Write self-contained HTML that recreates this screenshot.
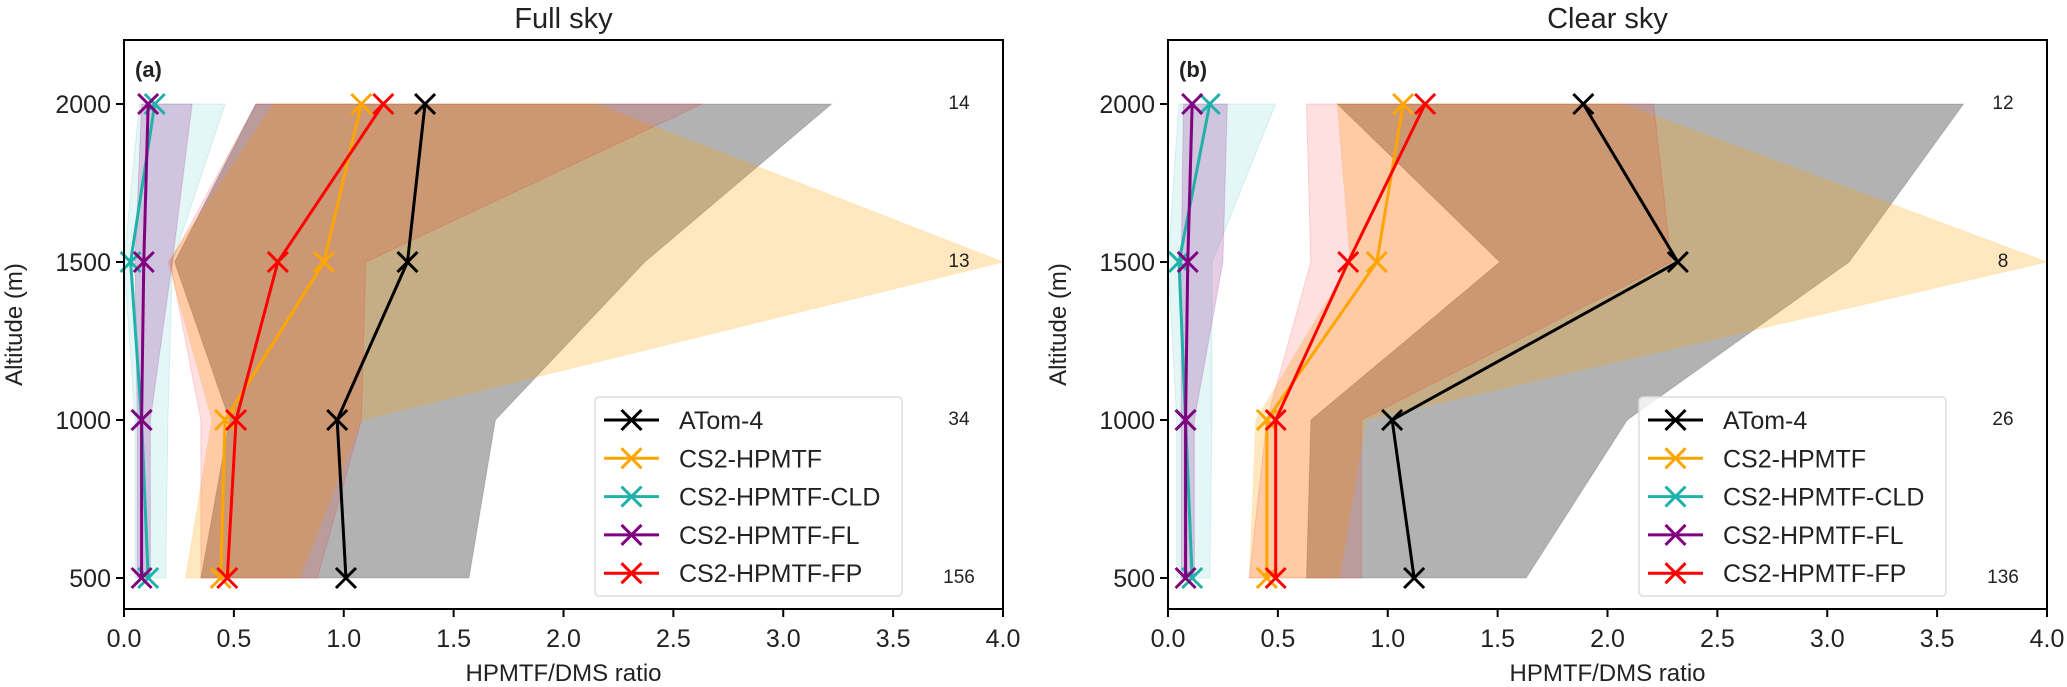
<!DOCTYPE html>
<html><head><meta charset="utf-8"><style>
body{margin:0;background:#fff;}
svg{display:block;font-family:"Liberation Sans","DejaVu Sans",sans-serif;}
</style></head><body>
<svg id="chart" width="2067" height="687" xmlns="http://www.w3.org/2000/svg"></svg>
<script>
const altitudes=[2000,1500,1000,500];
const xTicks=[0,0.5,1,1.5,2,2.5,3,3.5,4];
const yTicks=[500,1000,1500,2000];
const seriesNames=["ATom-4","CS2-HPMTF","CS2-HPMTF-CLD","CS2-HPMTF-FL","CS2-HPMTF-FP"];
const seriesColors=["#000000","#ffa500","#20b2aa","#800080","#ff0000"];
const fillOpacity=[0.3,0.25,0.12,0.2,0.12];
// Full sky
const fullAtom=[1.37,1.29,0.97,1.01];
const fullHpmtf=[1.08,0.91,0.46,0.44];
const fullCld=[0.14,0.03,0.08,0.11];
const fullFl=[0.11,0.09,0.08,0.08];
const fullFp=[1.18,0.70,0.51,0.47];
const fullAtomLo=[0.60,0.23,0.48,0.35];
const fullAtomHi=[3.22,2.37,1.69,1.57];
const fullHpmtfLo=[0.68,0.20,0.40,0.28];
const fullHpmtfHi=[2.15,4.0,1.08,0.80];
const fullCldLo=[0.07,0.0,0.05,0.05];
const fullCldHi=[0.46,0.22,0.20,0.19];
const fullFlLo=[0.08,0.05,0.06,0.06];
const fullFlHi=[0.31,0.22,0.12,0.12];
const fullFpLo=[0.60,0.21,0.35,0.35];
const fullFpHi=[2.63,1.10,1.08,0.88];
const fullCounts=["14","13","34","156"];
// Clear sky
const clearAtom=[1.89,2.32,1.02,1.12];
const clearHpmtf=[1.07,0.95,0.45,0.45];
const clearCld=[0.19,0.05,0.08,0.11];
const clearFl=[0.11,0.09,0.08,0.08];
const clearFp=[1.17,0.82,0.49,0.49];
const clearAtomLo=[0.77,1.51,0.65,0.63];
const clearAtomHi=[3.62,3.10,2.09,1.63];
const clearHpmtfLo=[0.77,0.83,0.40,0.37];
const clearHpmtfHi=[2.07,4.0,0.90,0.78];
const clearCldLo=[0.05,0.0,0.04,0.04];
const clearCldHi=[0.49,0.20,0.20,0.19];
const clearFlLo=[0.07,0.06,0.06,0.06];
const clearFlHi=[0.27,0.25,0.12,0.12];
const clearFpLo=[0.63,0.65,0.45,0.37];
const clearFpHi=[2.21,2.29,0.88,0.88];
const clearCounts=["12","8","26","136"];

const NS="http://www.w3.org/2000/svg";
const svg=document.getElementById('chart');
function mk(tag,attrs,parent){const e=document.createElementNS(NS,tag);for(const k in attrs)e.setAttribute(k,attrs[k]);(parent||svg).appendChild(e);return e;}

function panel(x0,title,letter,means,los,his,counts,key){
  const x1=x0+879, yT=40, yB=609;
  const g=mk('g',{});
  
  
  const sx=v=>x0+(v/4)*(x1-x0);
  const sy=a=>578+(a-500)/1500*(104-578);
  for(let s=0;s<5;s++){
    let pts=[];
    for(let i=0;i<4;i++)pts.push(sx(los[s][i])+','+sy(altitudes[i]));
    for(let i=3;i>=0;i--)pts.push(sx(his[s][i])+','+sy(altitudes[i]));
    const p=mk('polygon',{points:pts.join(' '),fill:seriesColors[s],'fill-opacity':fillOpacity[s],stroke:seriesColors[s],'stroke-opacity':0.15},g);
    
    
  }
  for(let s=0;s<5;s++){
    const pts=means[s].map((v,i)=>sx(v)+','+sy(altitudes[i])).join(' ');
    const l=mk('polyline',{points:pts,fill:'none',stroke:seriesColors[s],'stroke-width':3},g);
    
    
    means[s].forEach((v,i)=>{
      const cx=sx(v),cy=sy(altitudes[i]),r=10;
      const m=mk('path',{d:`M${cx-r},${cy-r}L${cx+r},${cy+r}M${cx-r},${cy+r}L${cx+r},${cy-r}`,stroke:seriesColors[s],'stroke-width':3},g);
      
      
    });
  }
  const fr=mk('rect',{x:x0,y:yT,width:x1-x0,height:yB-yT,fill:'none',stroke:'#000','stroke-width':2},g);
  
  
  xTicks.forEach(v=>{
    mk('line',{x1:sx(v),x2:sx(v),y1:yB,y2:yB+8,stroke:'#000','stroke-width':2},g);
    const t=mk('text',{x:sx(v),y:647,'text-anchor':'middle','font-size':25,fill:'#222'},g);
    t.textContent=v.toFixed(1);
    
    
  });
  yTicks.forEach(a=>{
    mk('line',{x1:x0-8,x2:x0,y1:sy(a),y2:sy(a),stroke:'#000','stroke-width':2},g);
    const t=mk('text',{x:x0-13,y:sy(a)+9,'text-anchor':'end','font-size':25,fill:'#222'},g);
    t.textContent=a;
    
    
  });
  counts.forEach((c,i)=>{
    const t=mk('text',{x:x1-44,y:sy(altitudes[i])+5,'text-anchor':'middle','font-size':19,fill:'#222'},g);
    t.textContent=c;
    
    
  });
  const tt=mk('text',{x:(x0+x1)/2,y:28,'text-anchor':'middle','font-size':29,fill:'#222'},g);
  tt.textContent=title;
  
  
  const lt=mk('text',{x:x0+11,y:77,'font-size':22,'font-weight':'bold',fill:'#222'},g);
  lt.textContent=letter;
  
  
  const xl=mk('text',{x:(x0+x1)/2,y:681,'text-anchor':'middle','font-size':24,fill:'#222'},g);
  xl.textContent='HPMTF/DMS ratio';
  
  
  const yl=mk('text',{x:0,y:0,'text-anchor':'middle','font-size':24,fill:'#222',transform:`translate(${x0-102},${(yT+yB)/2}) rotate(-90)`},g);
  yl.textContent='Altitude (m)';
  
  
  const lx=x0+471, ly=397;
  const lg=mk('g',{},g);
  
  
  mk('rect',{x:lx,y:ly,width:307,height:199,rx:4,fill:'#fff','fill-opacity':0.8,stroke:'#ddd','stroke-width':1.5},lg);
  for(let s=0;s<5;s++){
    const y=420+s*38.3;
    const e=mk('g',{},lg);
    
    
    mk('line',{x1:lx+9,x2:lx+64,y1:y,y2:y,stroke:seriesColors[s],'stroke-width':3},e);
    const cx=lx+36.5;
    mk('path',{d:`M${cx-10},${y-10}L${cx+10},${y+10}M${cx-10},${y+10}L${cx+10},${y-10}`,stroke:seriesColors[s],'stroke-width':3},e);
    const t=mk('text',{x:lx+84,y:y+9,'font-size':25,fill:'#222'},e);
    t.textContent=seriesNames[s];
  }
}
panel(124,'Full sky','(a)',
  [fullAtom,fullHpmtf,fullCld,fullFl,fullFp],
  [fullAtomLo,fullHpmtfLo,fullCldLo,fullFlLo,fullFpLo],
  [fullAtomHi,fullHpmtfHi,fullCldHi,fullFlHi,fullFpHi],fullCounts,'full-sky');
panel(1168,'Clear sky','(b)',
  [clearAtom,clearHpmtf,clearCld,clearFl,clearFp],
  [clearAtomLo,clearHpmtfLo,clearCldLo,clearFlLo,clearFpLo],
  [clearAtomHi,clearHpmtfHi,clearCldHi,clearFlHi,clearFpHi],clearCounts,'clear-sky');
</script>
</body></html>
